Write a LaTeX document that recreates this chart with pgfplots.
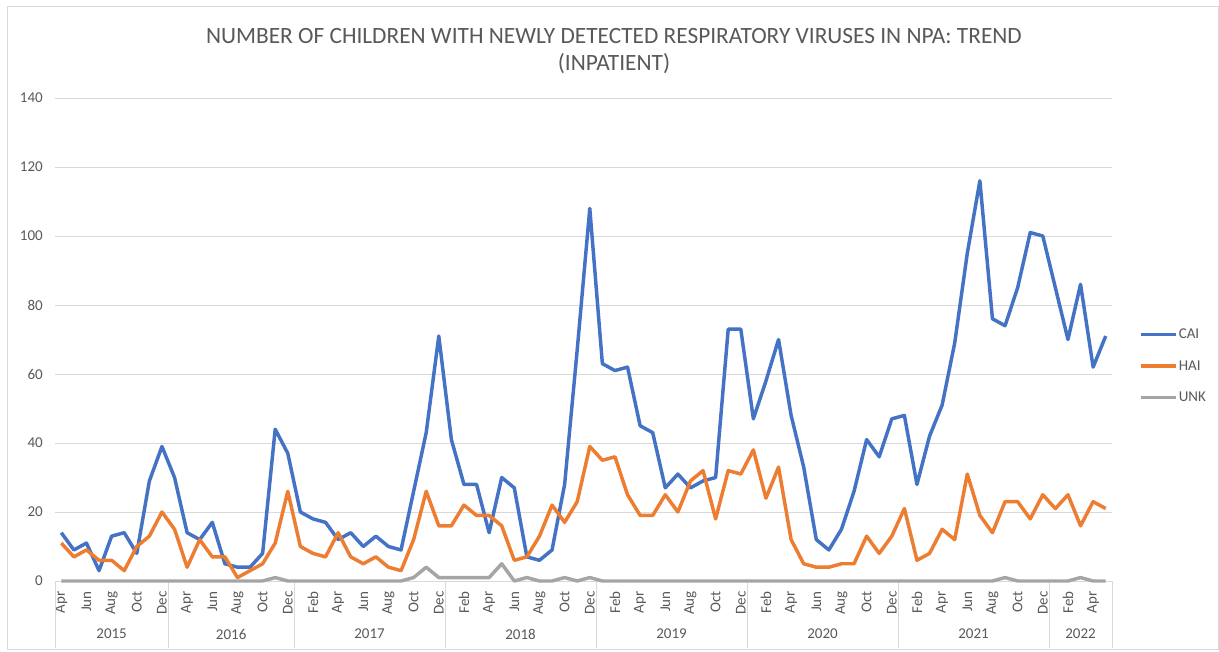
\documentclass[border=0pt]{standalone}
\usepackage{fontspec}
\setmainfont{Carlito}
\usepackage{pgfplots}
\pgfplotsset{compat=1.18}
\usepackage{pgfplotstable}
\definecolor{cai}{HTML}{4472C4}
\definecolor{hai}{HTML}{ED7D31}
\definecolor{unk}{HTML}{A5A5A5}
\definecolor{txt}{HTML}{595959}
\definecolor{grd}{HTML}{D9D9D9}

\pgfplotstableread{
i CAI HAI UNK
0 14 11 0
1 9 7 0
2 11 9 0
3 3 6 0
4 13 6 0
5 14 3 0
6 8 10 0
7 29 13 0
8 39 20 0
9 30 15 0
10 14 4 0
11 12 12 0
12 17 7 0
13 5 7 0
14 4 1 0
15 4 3 0
16 8 5 0
17 44 11 1
18 37 26 0
19 20 10 0
20 18 8 0
21 17 7 0
22 12 14 0
23 14 7 0
24 10 5 0
25 13 7 0
26 10 4 0
27 9 3 0
28 26 12 1
29 43 26 4
30 71 16 1
31 41 16 1
32 28 22 1
33 28 19 1
34 14 19 1
35 30 16 5
36 27 6 0
37 7 7 1
38 6 13 0
39 9 22 0
40 28 17 1
41 67 23 0
42 108 39 1
43 63 35 0
44 61 36 0
45 62 25 0
46 45 19 0
47 43 19 0
48 27 25 0
49 31 20 0
50 27 29 0
51 29 32 0
52 30 18 0
53 73 32 0
54 73 31 0
55 47 38 0
56 58 24 0
57 70 33 0
58 48 12 0
59 33 5 0
60 12 4 0
61 9 4 0
62 15 5 0
63 26 5 0
64 41 13 0
65 36 8 0
66 47 13 0
67 48 21 0
68 28 6 0
69 42 8 0
70 51 15 0
71 69 12 0
72 95 31 0
73 116 19 0
74 76 14 0
75 74 23 1
76 85 23 0
77 101 18 0
78 100 25 0
79 85 21 0
80 70 25 0
81 86 16 1
82 62 23 0
83 71 21 0
}\data

\begin{document}
\begin{tikzpicture}[x=0.75pt,y=0.75pt]
\useasboundingbox (0,0) rectangle (1219,651);
\fill[white] (0,0) rectangle (1219,651);
\draw[grd, line width=0.75pt] (7,2) rectangle (1218,644);
\node[text=txt, font=\fontsize{17.5}{21}\selectfont] at (614,615) {NUMBER OF CHILDREN WITH NEWLY DETECTED RESPIRATORY VIRUSES IN NPA: TREND};
\node[text=txt, font=\fontsize{17.5}{21}\selectfont] at (614,587) {(INPATIENT)};
\begin{axis}[
  at={(41.25pt,52.5pt)}, anchor=south west,
  scale only axis, width=792.75pt, height=362.25pt,
  xmin=-0.5, xmax=83.5, ymin=0, ymax=140,
  ytick={0,20,...,140},
  xtick={0,2,...,82},
  xticklabels={Apr,Jun,Aug,Oct,Dec,Apr,Jun,Aug,Oct,Dec,Feb,Apr,Jun,Aug,Oct,Dec,Feb,Apr,Jun,Aug,Oct,Dec,Feb,Apr,Jun,Aug,Oct,Dec,Feb,Apr,Jun,Aug,Oct,Dec,Feb,Apr,Jun,Aug,Oct,Dec,Feb,Apr},
  axis x line*=bottom, axis y line*=left,
  x axis line style={draw=grd, line width=0.75pt, -},
  y axis line style={draw=none},
  major tick length=0pt,
  ymajorgrids, grid style={draw=grd, line width=0.75pt},
  /pgf/number format/assume math mode=true,
  tick label style={text=txt, font=\fontsize{11.25}{13}\selectfont},
  yticklabel style={anchor=east, inner sep=0pt, xshift=-9pt},
  xticklabel style={rotate=90, anchor=east, inner sep=0pt},
  xticklabel shift=7.5pt,
  extra x ticks={-0.5,8.5,18.5,30.5,42.5,54.5,66.5,78.5,83.5},
  extra x tick labels={},
  extra x tick style={major tick length=50.25pt, tick align=outside, tick style={draw=grd, line width=0.75pt}, grid=none},
  clip=false,
  legend style={at={(rel axis cs:1.0215,0.445)}, anchor=west, draw=none, fill=none,
    font=\fontsize{11.25}{13}\selectfont, text=txt, row sep=11.5pt,
    nodes={inner sep=1pt, text height=8pt, text depth=2pt}},
  legend cell align=left,
  legend image code/.code={\draw[#1] (0pt,0pt) -- (26.25pt,0pt);},
]
\addplot[cai, line width=2.6pt, line join=round] table[x=i, y=CAI] {\data};
\addlegendentry{CAI}
\addplot[hai, line width=2.6pt, line join=round] table[x=i, y=HAI] {\data};
\addlegendentry{HAI}
\addplot[unk, line width=2.6pt, line join=round] table[x=i, y=UNK] {\data};
\addlegendentry{UNK}
\foreach \c/\y in {4/2015,13.5/2016,24.5/2017,36.5/2018,48.5/2019,60.5/2020,72.5/2021,81/2022}{
  \edef\tmp{\noexpand\node[text=txt, font=\noexpand\fontsize{11.25}{13}\noexpand\selectfont, yshift=-39.75pt] at (axis cs:\c,0) {\y};}
  \tmp
}
\end{axis}
\end{tikzpicture}
\end{document}
